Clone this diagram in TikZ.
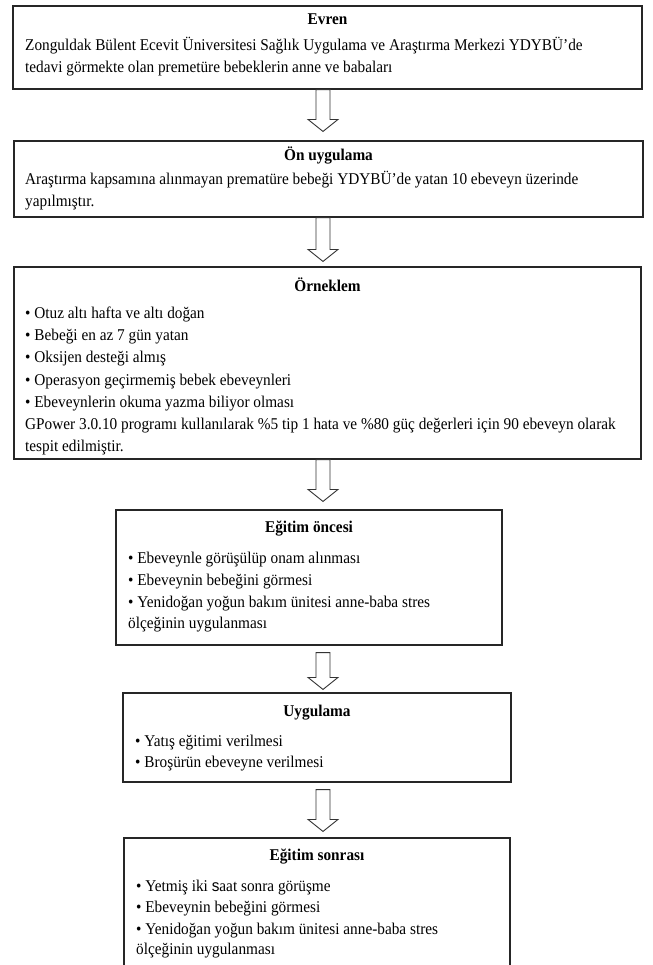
\documentclass[tikz,border=0pt]{standalone}
\usepackage{fontspec}
\setmainfont[FakeStretch=0.93]{Liberation Serif}
\newfontfamily\sansf[FakeStretch=0.93]{Liberation Sans}
\usetikzlibrary{calc}
\newcommand\fatarrow[2]{\draw[fat] let \p1=(#1), \p2=(#2) in (\x1-7bp,\y1) -- (\x1-7bp,\y2+12bp) -- (\x1-15bp,\y2+12bp) -- (\x1,\y2) -- (\x1+15bp,\y2+12bp) -- (\x1+7bp,\y2+12bp) -- (\x1+7bp,\y1) -- cycle;}
\begin{document}
\begin{tikzpicture}[x=1bp,y=-1bp,
  box/.style={draw=black!85, line width=1.1bp, inner sep=0pt},
  ttl/.style={font=\fontsize{16.5}{18}\selectfont\bfseries, anchor=mid, inner sep=0pt},
  txt/.style={font=\fontsize{16.5}{18}\selectfont, anchor=mid west, inner sep=0pt},
  fat/.style={draw=black!80, line width=0.9bp, fill=white, line join=miter}]
\useasboundingbox (0,0) rectangle (653,965);
\clip (0,0) rectangle (653,965);
\coordinate (ax) at (323,0);
% Box 1
\node[box, minimum width=629bp, minimum height=83bp] (b1) at (327.5,47.5) {};
\node[ttl] (t1) at (327.5,22) {Evren};
\node[txt] (t1a) at (25,48) {Zonguldak Bülent Ecevit Üniversitesi Sağlık Uygulama ve Araştırma Merkezi YDYBÜ’de};
\node[txt] (t1b) at (25,70) {tedavi görmekte olan premetüre bebeklerin anne ve babaları};
% Box 2
\node[box, minimum width=629bp, minimum height=76bp] (b2) at (328.5,179) {};
\node[ttl] (t2) at (328.5,158) {Ön uygulama};
\node[txt] (t2a) at (25,182) {Araştırma kapsamına alınmayan prematüre bebeği YDYBÜ’de yatan 10 ebeveyn üzerinde};
\node[txt] (t2b) at (25,204) {yapılmıştır.};
% Box 3
\node[box, minimum width=627bp, minimum height=192bp] (b3) at (327.5,363) {};
\node[ttl] (t3) at (327.5,289) {Örneklem};
\node[txt] (t3a) at (25,316) {• Otuz altı hafta ve altı doğan};
\node[txt] (t3b) at (25,338) {• Bebeği en az 7 gün yatan};
\node[txt] (t3c) at (25,360) {• Oksijen desteği almış};
\node[txt] (t3d) at (25,383) {• Operasyon geçirmemiş bebek ebeveynleri};
\node[txt] (t3e) at (25,405) {• Ebeveynlerin okuma yazma biliyor olması};
\node[txt] (t3f) at (25,427) {GPower 3.0.10 programı kullanılarak \%5 tip 1 hata ve \%80 güç değerleri için 90 ebeveyn olarak};
\node[txt] (t3g) at (25,449) {tespit edilmiştir.};
% Box 4
\node[box, minimum width=386bp, minimum height=135bp] (b4) at (309,577.5) {};
\node[ttl] (t4) at (309,530) {Eğitim öncesi};
\node[txt] (t4a) at (128,561) {• Ebeveynle görüşülüp onam alınması};
\node[txt] (t4b) at (128,583) {• Ebeveynin bebeğini görmesi};
\node[txt] (t4c) at (128,605) {• Yenidoğan yoğun bakım ünitesi anne-baba stres};
\node[txt] (t4d) at (128,626) {ölçeğinin uygulanması};
% Box 5
\node[box, minimum width=388bp, minimum height=89bp] (b5) at (317,737.5) {};
\node[ttl] (t5) at (317,714) {Uygulama};
\node[txt] (t5a) at (135,744) {• Yatış eğitimi verilmesi};
\node[txt] (t5b) at (135,765) {• Broşürün ebeveyne verilmesi};
% Box 6
\node[box, minimum width=386bp, minimum height=162bp] (b6) at (317,919) {};
\node[ttl] (t6) at (317,858) {Eğitim sonrası};
\node[txt] (t6a) at (136,889) {• Yetmiş iki {\sansf s}aat sonra görüşme};
\node[txt] (t6b) at (136,910) {• Ebeveynin bebeğini görmesi};
\node[txt] (t6c) at (136,932) {• Yenidoğan yoğun bakım ünitesi anne-baba stres};
\node[txt] (t6d) at (136,952) {ölçeğinin uygulanması};
% Arrow end points
\coordinate (s1) at (b1.south -| ax);
\coordinate (e1) at ([yshift=9bp]b2.north -| ax);
\coordinate (s2) at (b2.south -| ax);
\coordinate (e2) at ([yshift=5bp]b3.north -| ax);
\coordinate (s3) at (b3.south -| ax);
\coordinate (e3) at ([yshift=8bp]b4.north -| ax);
\coordinate (s4) at ([yshift=-7bp]b4.south -| ax);
\coordinate (e4) at ([yshift=3bp]b5.north -| ax);
\coordinate (s5) at ([yshift=-7bp]b5.south -| ax);
\coordinate (e5) at ([yshift=6bp]b6.north -| ax);
\fatarrow{s1}{e1}
\fatarrow{s2}{e2}
\fatarrow{s3}{e3}
\fatarrow{s4}{e4}
\fatarrow{s5}{e5}
\end{tikzpicture}
\end{document}
